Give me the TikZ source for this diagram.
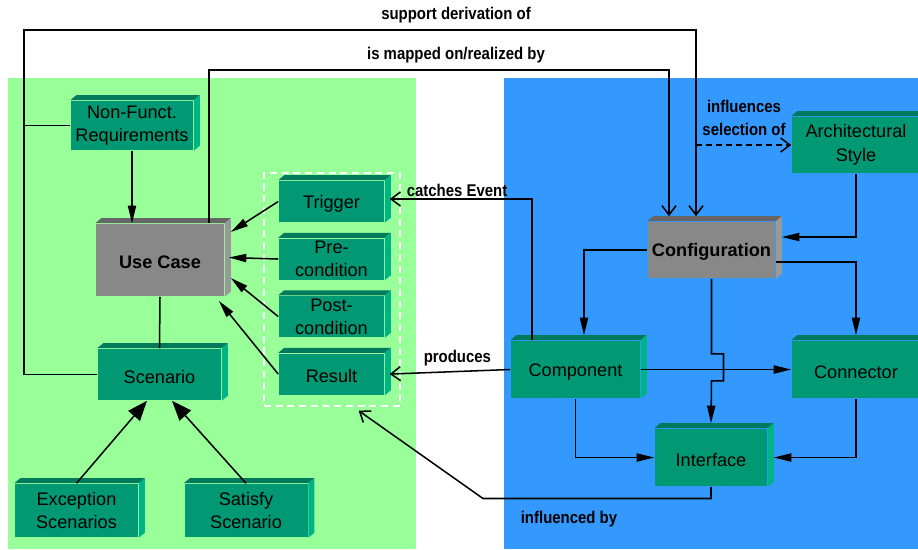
\documentclass[tikz,border=0pt]{standalone}
\usepackage{fontspec}
\setmainfont{Liberation Sans}
\newfontfamily\lblfont{Liberation Sans Bold}[FakeStretch=0.88]
\usetikzlibrary{arrows.meta, positioning}

\definecolor{leftbg}{HTML}{99FF99}
\definecolor{rightbg}{HTML}{3399FF}
\definecolor{blockfront}{HTML}{009973}
\definecolor{blocktop}{HTML}{007A5C}
\definecolor{blockside}{HTML}{00B386}
\definecolor{corefront}{HTML}{888888}
\definecolor{coretop}{HTML}{666666}
\definecolor{coreside}{HTML}{999999}

\tikzset{
  block/.style={fill=blockfront, inner sep=0pt, align=center,
    font=\fontsize{15.5}{20}\selectfont, execute at begin node={\rule{0pt}{15pt}}},
  core/.style={block, fill=corefront, font=\fontsize{15.5}{20}\selectfont\bfseries},
  lbl/.style={inner sep=0pt, align=center, font=\lblfont\fontsize{14.5}{19.5}\selectfont},
  fillarr/.style={-{Triangle[length=15pt, width=7pt]}},
  bigarr/.style={-{Triangle[length=17pt, width=13pt]}},
  openarr/.style={-{Straight Barb[length=8pt, width=12pt]}},
}

\begin{document}
\begin{tikzpicture}[x=0.03cm, y=-0.03cm, line width=1.3pt]
  \useasboundingbox (0,0) rectangle (918,549);

  % requirement side and architecture side
  \fill[leftbg] (8,78) rectangle (416,549);
  \fill[rightbg] (504,78) rectangle (918,549);

  \node[draw=white, line width=1.1pt, dash pattern=on 6pt off 4pt, minimum width=4.08cm, minimum height=6.99cm] (group) at (332,289.5) {};

  % use case elements
  \node[block, minimum width=3.66cm, minimum height=1.47cm] (nfr) at (132,125.5) {Non-Funct.\\Requirements};
  \node[core, minimum width=3.84cm, minimum height=2.16cm] (usecase) at (160,260) {Use Case};
  \node[block, minimum width=3.15cm, minimum height=1.23cm] (trigger) at (331.5,201.5) {Trigger};
  \node[block, minimum width=3.15cm, minimum height=1.23cm, below=0.45cm of trigger] (pre) {Pre-\\condition};
  \node[block, minimum width=3.15cm, minimum height=1.23cm, below=0.45cm of pre] (post) {Post-\\condition};
  \node[block, minimum width=3.15cm, minimum height=1.23cm, below=0.45cm of post] (result) {Result};
  \node[block, minimum width=3.69cm, minimum height=1.53cm] (scenario) at (159.5,374.5) {Scenario};
  \node[block, minimum width=3.69cm, minimum height=1.59cm] (exc) at (76.5,510.5) {Exception\\Scenarios};
  \node[block, minimum width=3.69cm, minimum height=1.59cm, right=1.35cm of exc] (sat) {Satisfy\\Scenario};

  % architecture elements
  \node[block, minimum width=3.84cm, minimum height=1.68cm] (arch) at (856,145) {Architectural\\Style};
  \node[core, minimum width=3.81cm, minimum height=1.68cm] (config) at (711.5,250) {Configuration};
  \node[block, minimum width=3.87cm, minimum height=1.71cm] (comp) at (575.5,369.5) {Component};
  \node[block, minimum width=3.84cm, minimum height=1.71cm] (conn) at (856,369.5) {Connector};
  \node[block, minimum width=3.36cm, minimum height=1.71cm] (iface) at (711,457.5) {Interface};

  % top and side faces
  \foreach \n in {nfr,trigger,pre,post,result,scenario,exc,sat,arch,comp,conn,iface}{
    \fill[blocktop] (\n.north west) -- ++(6,-5) -- ([shift={(6,-5)}]\n.north east) -- (\n.north east) -- cycle;
    \fill[blockside] (\n.north east) -- ++(6,-5) -- ([shift={(6,-5)}]\n.south east) -- (\n.south east) -- cycle;
  }
  \foreach \n in {usecase,config}{
    \fill[coretop] (\n.north west) -- ++(6,-5) -- ([shift={(6,-5)}]\n.north east) -- (\n.north east) -- cycle;
    \fill[coreside] (\n.north east) -- ++(6,-5) -- ([shift={(6,-5)}]\n.south east) -- (\n.south east) -- cycle;
  }

  \coordinate (sdcorner) at (24,30);
  \coordinate (sdright) at (696,30);
  \coordinate (maptop) at (669,70);
  \coordinate (cfgtop) at ([shift={(0,-5)}]config.north);
  \coordinate (infbend) at (483,498.5);

  % long links over the top
  \draw[openarr] (scenario.west) -| (sdcorner) -- (sdright) -- (sdright |- cfgtop);
  \draw (nfr.west) -- (nfr.west -| sdcorner);
  \draw[openarr] ([shift={(-16,0)}]usecase.north east) |- (maptop) -- (maptop |- cfgtop);
  \draw[openarr, dash pattern=on 5pt off 3.5pt] (sdright |- arch.west) -- (arch.west);

  % left side
  \draw[fillarr] (nfr.south) -- (nfr.south |- usecase.north);
  \draw[fillarr] (trigger.west) -- ([shift={(6,-28)}]usecase.east);
  \draw[fillarr] (pre.west) -- ([shift={(4,-2.5)}]usecase.east);
  \draw[fillarr] (post.west) -- ([shift={(6,18)}]usecase.east);
  \draw[fillarr] (result.west) -- ([shift={(-6,4)}]usecase.south east);
  \draw (usecase.south) -- (scenario.north);
  \draw[bigarr] (exc.north) -- ([shift={(-12.5,0)}]scenario.south);
  \draw[bigarr] (sat.north) -- ([shift={(12.5,0)}]scenario.south);

  % between the two sides
  \draw[openarr] ([shift={(22,0)}]comp.north west) |- ([shift={(5,-2.5)}]trigger.east);
  \draw[openarr] (comp.west) -- ([shift={(5,0)}]result.east);
  \draw[openarr] (iface.south) |- (infbend) -- ([shift={(-42,4)}]group.south east);

  % right side
  \draw[fillarr] (arch.south) |- ([shift={(6,-13)}]config.east);
  \draw[fillarr] (config.west) -| ([shift={(8.5,-5)}]comp.north);
  \draw[fillarr] ([shift={(0,12)}]config.east) -| ([shift={(0,-5)}]conn.north);
  \draw[fillarr] (config.south) -- ++(0,75) -- ++(12,0) -- ++(0,27) -- ++(-12,0) -- ([shift={(0,-5)}]iface.north);
  \draw[fillarr] (comp.east) -- (conn.west);
  \draw[fillarr] (comp.south) |- (iface.west);
  \draw[fillarr] (conn.south) |- ([shift={(6,0)}]iface.east);

  % labels
  \node[lbl] (lsupport) at (456,15) {support derivation of};
  \node[lbl] (lmapped) at (456,55) {is mapped on/realized by};
  \node[lbl, anchor=west] (lcatches) at (406,190) {catches Event};
  \node[lbl, anchor=west] (lproduces) at (423,358) {produces};
  \node[lbl] (linfluences) at (744,118) {influences\\selection of};
  \node[lbl] (linfluenced) at (569,519) {influenced by};
\end{tikzpicture}
\end{document}
